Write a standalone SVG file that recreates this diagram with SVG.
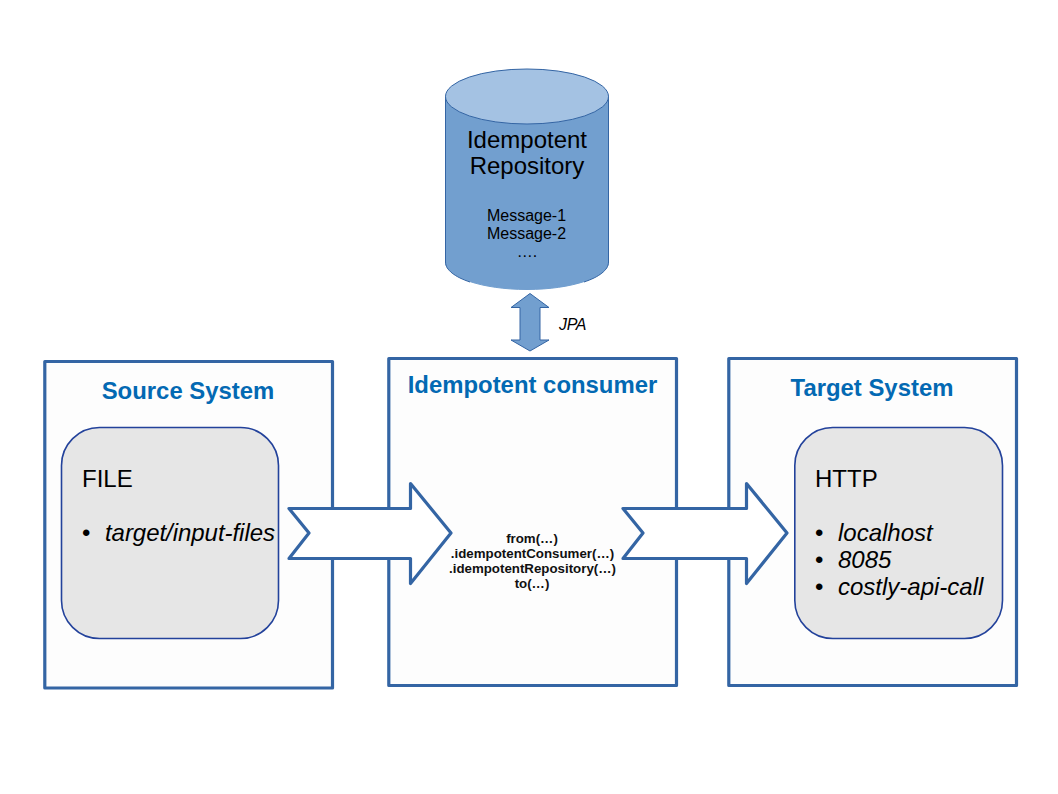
<svg xmlns="http://www.w3.org/2000/svg" width="1058" height="794" viewBox="0 0 1058 794">
<style>
text{font-family:"Liberation Sans",Arial,sans-serif;fill:#000}
.box{fill:#fdfdfd;stroke:#3465a4;stroke-width:3.2;stroke-linejoin:round}
.inner{fill:#e6e6e6;stroke:#23429b;stroke-width:1.6}
.title{font-size:23.9px;font-weight:bold;fill:#0369b3;text-anchor:middle}
.big{font-size:24px}
.it{font-size:24px;font-style:italic}
.arrow{fill:#fff;stroke:#3465a4;stroke-width:3.2;stroke-linejoin:round}
.code{font-size:13.3px;font-weight:bold;text-anchor:middle;fill:#111}
.c{text-anchor:middle}
</style>
<rect width="1058" height="794" fill="#fff"/>
<g id="repository">
<path d="M445.500 96V262C445.500 277 482 289.500 527 289.500S608.500 277 608.500 262V96Z" fill="#729fcf" stroke="#729fcf" stroke-width="1"/>
<path d="M445.500 96V262C445.500 270 455 277 470 282M608.500 96V262C608.500 270 599 277 584 282" fill="none" stroke="#3465a4" stroke-width="1"/>
<ellipse cx="527" cy="96.500" rx="81.500" ry="27.500" fill="#a4c2e3" stroke="#3465a4" stroke-width="1"/>
<text class="c" x="527" y="148" font-size="24">Idempotent</text>
<text class="c" x="527" y="174" font-size="24">Repository</text>
<text class="c" x="526.500" y="221" font-size="16">Message-1</text>
<text class="c" x="526.500" y="239" font-size="16">Message-2</text>
<text class="c" x="527" y="257" font-size="16">….</text>
</g>
<g id="source-system">
<rect class="box" x="44.800" y="361.500" width="287.700" height="326.500"/>
<text class="title" x="188" y="399">Source System</text>
<rect class="inner" x="61.500" y="427.500" width="217" height="211" rx="38" ry="38"/>
<text class="big" x="82" y="487">FILE</text>
<text class="big" x="82" y="541">•</text>
<text class="it" x="105" y="541" textLength="170">target/input-files</text>
</g>
<g id="idempotent-consumer">
<rect class="box" x="388.800" y="358.500" width="287.700" height="327"/>
<text class="title" x="532.500" y="393">Idempotent consumer</text>
<text class="code" x="532" y="543">from(…)</text>
<text class="code" x="532.500" y="558">.idempotentConsumer(…)</text>
<text class="code" x="532.500" y="573">.idempotentRepository(…)</text>
<text class="code" x="532" y="588">to(…)</text>
</g>
<g id="target-system">
<rect class="box" x="728.800" y="358.500" width="287.700" height="327"/>
<text class="title" x="872" y="396">Target System</text>
<rect class="inner" x="794.800" y="427.500" width="207.700" height="211" rx="38" ry="38"/>
<text class="big" x="815" y="487">HTTP</text>
<text class="big" x="815" y="541">•</text>
<text class="it" x="838" y="541">localhost</text>
<text class="big" x="815" y="568">•</text>
<text class="it" x="838" y="568">8085</text>
<text class="big" x="815" y="595">•</text>
<text class="it" x="838" y="595">costly-api-call</text>
</g>
<g id="connectors">
<path d="M530 293.500L549 307.500H540V340H549L530 351L511 340H520V307.500H511Z" fill="#729fcf" stroke="#3465a4" stroke-width="1"/>
<path class="arrow" d="M289 508.500H410.500V483.500L451 533L410.500 583.500V558.500H289L309 533Z"/>
<path class="arrow" d="M623 508.500H746.500V483.500L787 533L746.500 583.500V558.500H623L643 533Z"/>
<text x="559" y="330" font-size="16" font-style="italic" textLength="27.500">JPA</text>
</g>
</svg>
